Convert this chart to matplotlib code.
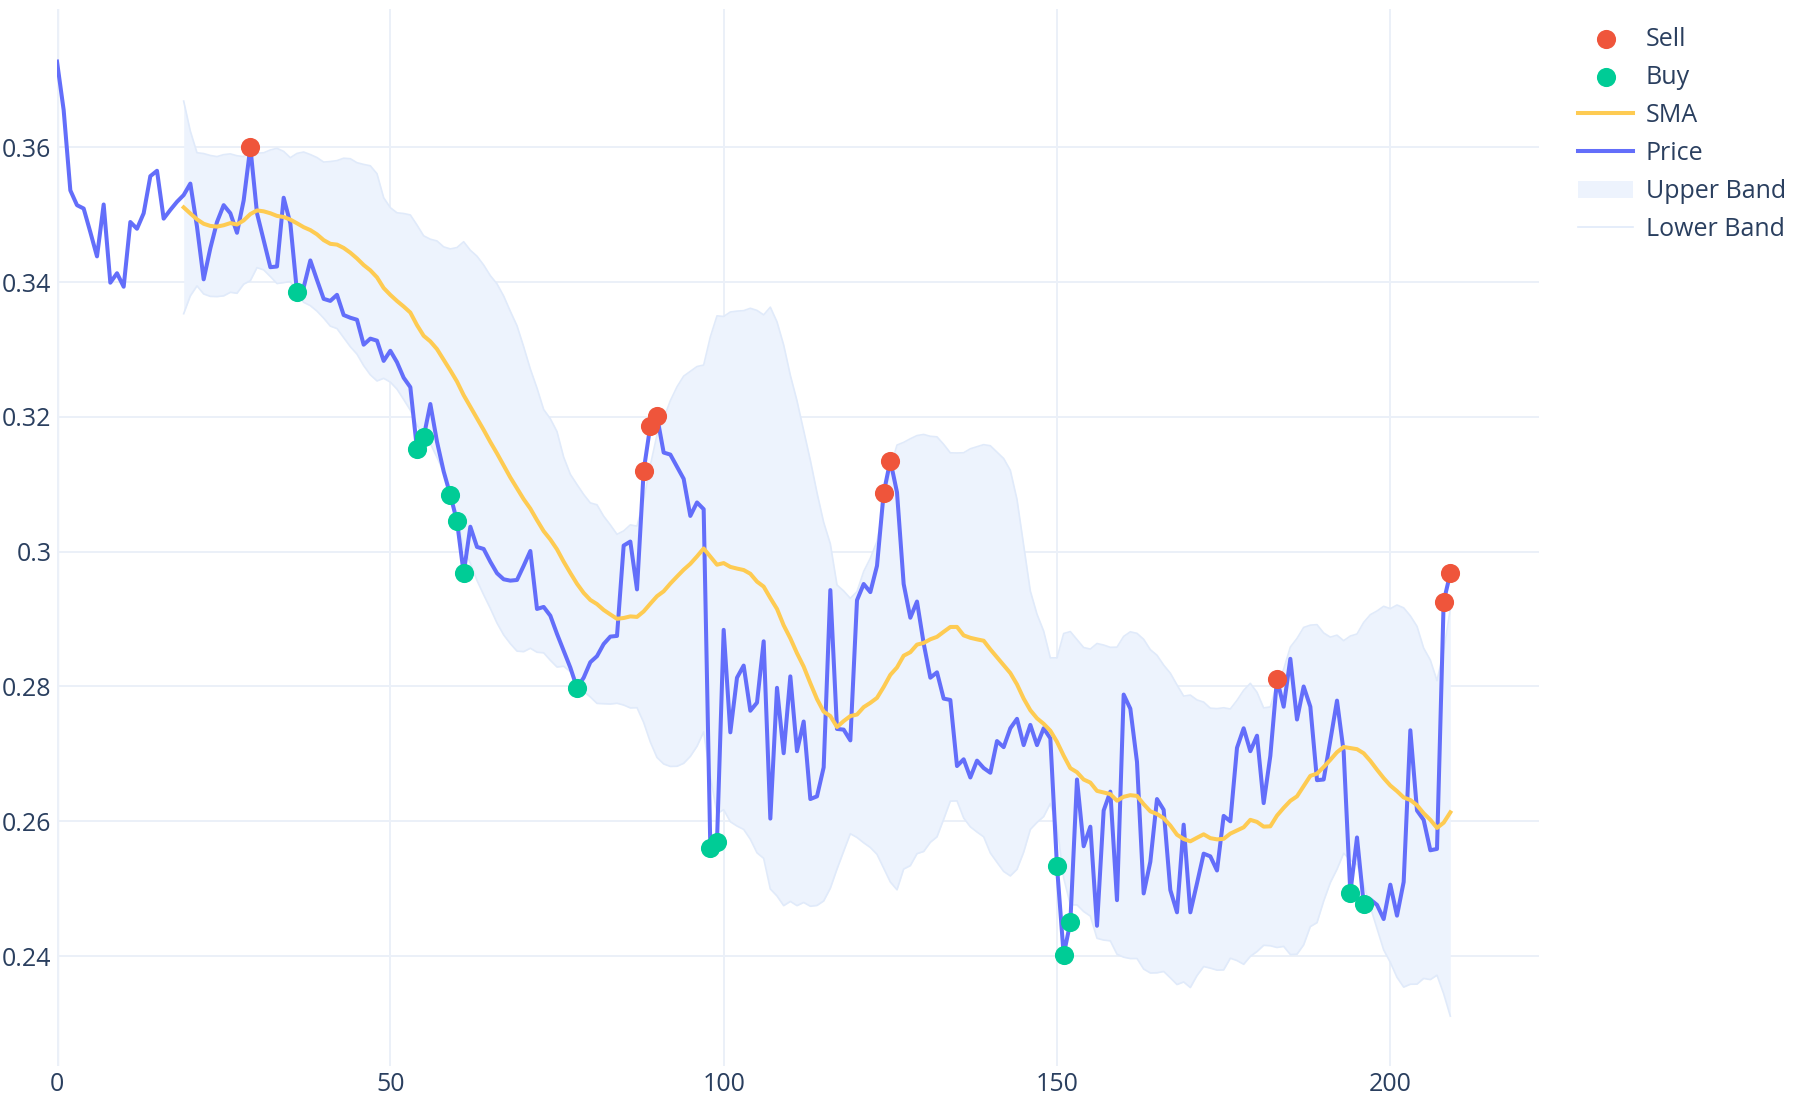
import numpy as np
import pandas as pd
import matplotlib
matplotlib.use('Agg')
import matplotlib.pyplot as plt

# price, one value per step (0..209)
price = [
    0.3727, 0.3655, 0.3536, 0.3514, 0.3509, 0.3474, 0.3438, 0.3515, 0.3399, 0.3413,
    0.3393, 0.3489, 0.3479, 0.3502, 0.3557, 0.3565, 0.3494, 0.3507, 0.3519, 0.3529,
    0.3546, 0.3482, 0.3404, 0.3450, 0.3489, 0.3514, 0.3502, 0.3473, 0.3521, 0.3600,
    0.3502, 0.3462, 0.3422, 0.3423, 0.3525, 0.3487, 0.3385, 0.3392, 0.3432, 0.3403,
    0.3375, 0.3372, 0.3381, 0.3351, 0.3347, 0.3344, 0.3307, 0.3316, 0.3313, 0.3283,
    0.3298, 0.3281, 0.3258, 0.3244, 0.3152, 0.3170, 0.3219, 0.3163, 0.3119, 0.3084,
    0.3045, 0.2968, 0.3037, 0.3007, 0.3004, 0.2985, 0.2968, 0.2959, 0.2957, 0.2958,
    0.2979, 0.3001, 0.2915, 0.2918, 0.2905, 0.2878, 0.2853, 0.2828, 0.2798, 0.2813,
    0.2836, 0.2845, 0.2863, 0.2874, 0.2875, 0.3009, 0.3015, 0.2944, 0.3120, 0.3187,
    0.3201, 0.3147, 0.3144, 0.3126, 0.3108, 0.3053, 0.3073, 0.3063, 0.2560, 0.2570,
    0.2884, 0.2732, 0.2813, 0.2831, 0.2764, 0.2776, 0.2867, 0.2604, 0.2798, 0.2701,
    0.2815, 0.2704, 0.2748, 0.2633, 0.2637, 0.2680, 0.2943, 0.2737, 0.2736, 0.2720,
    0.2928, 0.2952, 0.2940, 0.2979, 0.3087, 0.3135, 0.3088, 0.2952, 0.2902, 0.2926,
    0.2864, 0.2813, 0.2821, 0.2782, 0.2780, 0.2682, 0.2692, 0.2665, 0.2690, 0.2679,
    0.2672, 0.2719, 0.2710, 0.2738, 0.2752, 0.2713, 0.2743, 0.2713, 0.2738, 0.2723,
    0.2533, 0.2402, 0.2450, 0.2662, 0.2563, 0.2592, 0.2445, 0.2616, 0.2644, 0.2483,
    0.2788, 0.2767, 0.2688, 0.2493, 0.2540, 0.2633, 0.2617, 0.2498, 0.2465, 0.2595,
    0.2465, 0.2508, 0.2552, 0.2548, 0.2527, 0.2608, 0.2600, 0.2709, 0.2738, 0.2704,
    0.2727, 0.2627, 0.2697, 0.2811, 0.2770, 0.2841, 0.2751, 0.2800, 0.2770, 0.2661,
    0.2662, 0.2720, 0.2779, 0.2703, 0.2494, 0.2576, 0.2478, 0.2484, 0.2476, 0.2455,
    0.2506, 0.2460, 0.2510, 0.2735, 0.2616, 0.2602, 0.2557, 0.2559, 0.2926, 0.2968,
]
sell_idx = [29, 88, 89, 90, 124, 125, 183, 208, 209]
buy_idx = [36, 54, 55, 59, 60, 61, 78, 98, 99, 150, 151, 152, 194, 196]
window = 20

y_ticks = [0.24, 0.26, 0.28, 0.30, 0.32, 0.34, 0.36]
y_labels = ['0.24', '0.26', '0.28', '0.3', '0.32', '0.34', '0.36']
x_ticks = [0, 50, 100, 150, 200]

plt.rcParams['font.family'] = ['Open Sans', 'DejaVu Sans']
txt = '#2a3f5f'
grid = '#EBF0F8'


def main():
    s = pd.Series(price)
    sma = s.rolling(window).mean()
    std = s.rolling(window).std()
    upper = sma + 2 * std
    lower = sma - 2 * std
    x = np.arange(len(s))

    fig = plt.figure(figsize=(18, 11), dpi=100)
    ax = fig.add_axes([57 / 1800, 1 - 1066 / 1100, (1539 - 57) / 1800, (1066 - 9) / 1100])

    lb, = ax.plot(x, lower, color='#E0EAFA', lw=1.2, zorder=1, label='Lower Band')
    ax.plot(x, upper, color='#E0EAFA', lw=1.2, zorder=1)
    ub = ax.fill_between(x, lower, upper, color='#EDF3FD', lw=0, zorder=0.9, label='Upper Band')
    pr, = ax.plot(x, s, color='#636EFA', lw=2.9, zorder=3, label='Price')
    sm, = ax.plot(x, sma, color='#FECB52', lw=2.9, zorder=4, label='SMA')
    bu = ax.scatter(buy_idx, s[buy_idx], s=190, color='#00CC96', zorder=5, lw=0, label='Buy')
    se = ax.scatter(sell_idx, s[sell_idx], s=190, color='#EF553B', zorder=6, lw=0, label='Sell')

    ax.set_xlim(0, 222.3)
    ax.set_ylim(0.2237, 0.3805)
    ax.set_yticks(y_ticks)
    ax.set_yticklabels(y_labels)
    ax.set_xticks(x_ticks)
    ax.grid(True, color=grid, lw=1.4, zorder=0)
    ax.set_axisbelow(True)
    ax.axvline(0, color=grid, lw=3.2, zorder=0.5)
    for sp in ax.spines.values():
        sp.set_visible(False)
    ax.tick_params(length=0, labelsize=18, labelcolor=txt, pad=4)

    fig.legend(handles=[se, bu, sm, pr, ub, lb],
               labels=['Sell', 'Buy', 'SMA', 'Price', 'Upper Band', 'Lower Band'],
               loc='upper left', bbox_to_anchor=(1578 / 1800, 1 - 27 / 1100),
               frameon=False, fontsize=18, labelcolor=txt, handlelength=2.2,
               handletextpad=0.5, labelspacing=0.52, borderpad=0, borderaxespad=0)

    fig.savefig('out.png', dpi=100, facecolor='white')


if __name__ == '__main__':
    main()
